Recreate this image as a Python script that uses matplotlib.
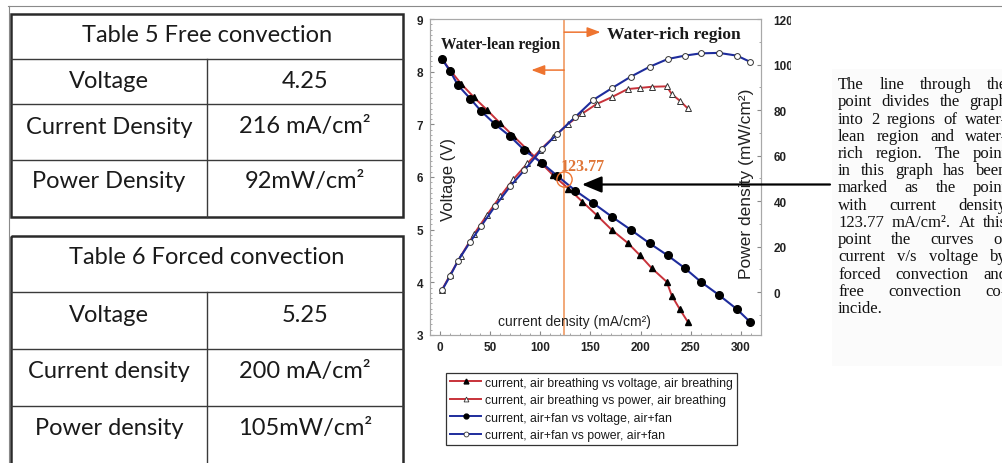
import numpy as np
import matplotlib
matplotlib.use("Agg")
import matplotlib.pyplot as plt
from matplotlib.ticker import MultipleLocator, AutoMinorLocator
from matplotlib.lines import Line2D
from matplotlib.patches import Rectangle

W, H = 1002, 464
DPI = 100

# ─── data ───
free_i = [2, 10, 21, 34, 47, 60, 73, 87, 100, 113, 128, 142, 156, 171, 187, 199, 211, 226, 231, 239, 247]
free_v = [8.24, 8.03, 7.77, 7.51, 7.27, 7.02, 6.78, 6.52, 6.28, 6.03, 5.78, 5.53, 5.28, 5.00, 4.75, 4.52, 4.27, 4.01, 3.75, 3.49, 3.25]
free_p = [1.0, 7.5, 16.0, 25.5, 34.0, 42.0, 49.5, 56.5, 62.5, 68.0, 74.0, 78.5, 82.6, 85.6, 89.2, 89.7, 90.2, 90.4, 87.0, 84.1, 80.7]
forced_i = [2, 10, 18, 30, 41, 55, 70, 84, 102, 117, 135, 153, 171, 190, 209, 227, 244, 260, 278, 296, 309]
forced_v = [8.24, 8.01, 7.74, 7.49, 7.25, 7.00, 6.77, 6.51, 6.26, 6.02, 5.74, 5.50, 5.25, 5.00, 4.74, 4.51, 4.27, 4.01, 3.76, 3.49, 3.25]
forced_p = [0.8, 7.0, 13.8, 22.0, 29.0, 37.8, 46.5, 53.5, 63.0, 69.5, 77.0, 84.5, 89.5, 94.6, 99.0, 102.4, 103.9, 104.9, 105.1, 103.9, 101.2]

x_cross = 123.77
v_cross = 5.96

legend_labels = [
    "current, air breathing vs voltage, air breathing",
    "current, air breathing vs power, air breathing",
    "current, air+fan vs voltage, air+fan",
    "current, air+fan vs power, air+fan",
]

t5_title = "Table 5 Free convection"
t5_rows = ["Voltage", "Current Density", "Power Density"]
t5_vals = ["4.25", "216 mA/cm²", "92mW/cm²"]
t6_title = "Table 6 Forced convection"
t6_rows = ["Voltage", "Current density", "Power density"]
t6_vals = ["5.25", "200 mA/cm²", "105mW/cm²"]

para_lines = [
    "The line through the",
    "point divides the graph",
    "into 2 regions of water-",
    "lean region and water-",
    "rich region. The point",
    "in this graph has been",
    "marked as the point",
    "with current density",
    "123.77 mA/cm². At this",
    "point the curves of",
    "current v/s voltage by",
    "forced convection and",
    "free convection co-",
    "incide.",
]

RED = "#C8323A"
BLUE = "#1E2C9C"
ORANGE = "#EE7430"
ORANGE_LT = "#F2A878"
SANS = "Liberation Sans"
SERIF = "Liberation Serif"
TABLE_FONT = "Lato"

fig = plt.figure(figsize=(W / DPI, H / DPI), dpi=DPI)
fig.patch.set_facecolor("white")

# ─── chart ───
ax = fig.add_axes([430 / W, 1 - 336 / H, 331 / W, 316 / H])
ax2 = ax.twinx()

ax.plot(free_i, free_v, "-", color=RED, lw=1.4, marker="^", ms=4.5, mfc="black", mec="black", zorder=3)
ax.plot(forced_i, forced_v, "-", color=BLUE, lw=1.5, marker="o", ms=5.5, mfc="black", mec="black", zorder=3)
ax2.plot(free_i, free_p, "-", color=RED, lw=1.4, marker="^", ms=4, mfc="white", mec="#333", mew=0.7, zorder=3)
ax2.plot(forced_i, forced_p, "-", color=BLUE, lw=1.5, marker="o", ms=4.2, mfc="white", mec="#333", mew=0.7, zorder=3)

ax.set_xlim(-10, 320)
ax.set_ylim(3, 9)
ax2.set_ylim(-18.9, 120)
ax.xaxis.set_major_locator(MultipleLocator(50))
ax.xaxis.set_minor_locator(AutoMinorLocator(5))
ax.yaxis.set_major_locator(MultipleLocator(1))
ax.yaxis.set_minor_locator(AutoMinorLocator(10))
ax2.yaxis.set_major_locator(MultipleLocator(20))
ax2.yaxis.set_minor_locator(AutoMinorLocator(2))

for a in (ax, ax2):
    for s in a.spines.values():
        s.set_color("#A8A8A8")
        s.set_linewidth(0.8)
    a.tick_params(which="major", direction="in", length=3, color="#888", labelsize=8.5)
    a.tick_params(which="minor", direction="in", length=1.5, color="#999")
ax.tick_params(axis="y", pad=5)
ax.tick_params(axis="x", pad=4)
ax2.tick_params(axis="y", pad=9)
for lab in ax.get_xticklabels() + ax.get_yticklabels() + ax2.get_yticklabels():
    lab.set_fontweight("bold")
    lab.set_family(SANS)
    lab.set_color("#222")

ax.text(0.057, 0.495, "Voltage (V)", transform=ax.transAxes, rotation=90, ha="center", va="center",
        fontsize=12, family=SANS, color="#222")
ax2.text(0.955, 0.483, "Power density (mW/cm²)", transform=ax2.transAxes, rotation=90, ha="center",
         va="center", fontsize=12.5, family=SANS, color="#222")
ax.text(0.435, 0.045, "current density (mA/cm²)", transform=ax.transAxes, ha="center", va="center",
        fontsize=10, family=SANS, color="#222")

# region marker
ax.axvline(x_cross, ymin=0, ymax=0.994, color=ORANGE_LT, lw=1.4, zorder=2)
ax.plot([x_cross], [v_cross], "o", ms=11, mfc="none", mec=ORANGE, mew=1.0, zorder=4)
ax.text(x_cross - 3, v_cross + 0.25, f"{x_cross:.2f}", color="#E07638", fontsize=11.5, family=SERIF,
        fontweight="bold", ha="left", va="center", zorder=5)
ax.annotate("", xy=(160, 8.75), xytext=(x_cross, 8.75),
            arrowprops=dict(arrowstyle="-|>,head_length=0.8,head_width=0.3", color=ORANGE, lw=1.1,
                            mutation_scale=10, shrinkA=0, shrinkB=0))
ax.annotate("", xy=(91, 8.03), xytext=(x_cross, 8.03),
            arrowprops=dict(arrowstyle="-|>,head_length=0.8,head_width=0.3", color=ORANGE, lw=1.1,
                            mutation_scale=10, shrinkA=0, shrinkB=0))
ax.text(1, 8.52, "Water-lean region", fontsize=11.2, family=SERIF, fontweight="bold", color="#1a1a1a",
        ha="left", va="center")
ax.text(166, 8.72, "Water-rich region", fontsize=12.6, family=SERIF, fontweight="bold", color="#1a1a1a",
        ha="left", va="center")

handles = [
    Line2D([], [], color=RED, lw=1.4, marker="^", ms=3.5, mfc="black", mec="black"),
    Line2D([], [], color=RED, lw=1.4, marker="^", ms=3.5, mfc="white", mec="#333", mew=0.6),
    Line2D([], [], color=BLUE, lw=1.4, marker="o", ms=3.5, mfc="black", mec="black"),
    Line2D([], [], color=BLUE, lw=1.4, marker="o", ms=3.5, mfc="white", mec="#333", mew=0.6),
]
leg = ax2.legend(handles, legend_labels, loc="upper left", bbox_to_anchor=(446 / W, 1 - 374 / H),
                 bbox_transform=fig.transFigure, prop={"family": SANS, "size": 8.8}, frameon=True,
                 fancybox=False, edgecolor="#333", framealpha=1, borderpad=0.3, labelspacing=0.45,
                 handlelength=2.6, handletextpad=0.3, borderaxespad=0)
leg.get_frame().set_linewidth(0.9)
for t in leg.get_texts():
    t.set_color("#1a1a1a")

# ─── overlay in pixel coordinates: page frame, tables, arrow, paragraph ───
ov = fig.add_axes([0, 0, 1, 1], zorder=10)
ov.set_xlim(0, W)
ov.set_ylim(H, 0)
ov.axis("off")
ov.patch.set_visible(False)

ov.plot([8, W], [7, 7], color="#8a8a8a", lw=0.8)
ov.plot([9, 9], [7, H], color="#8a8a8a", lw=0.8)
ov.add_patch(Rectangle((791, 10), 40, 90, facecolor="white", edgecolor="none"))
ov.add_patch(Rectangle((832, 70), W - 832, 297, facecolor="#FBFBFB", edgecolor="none"))


def draw_table(title, rows, vals, edges, text_y):
    x0, xm, x1 = 11, 207, 403
    for y in edges[1:-1]:
        ov.plot([x0, x1], [y, y], color="#3a3a3a", lw=1.0)
    ov.plot([xm, xm], [edges[1], edges[-1]], color="#3a3a3a", lw=1.0)
    ov.add_patch(Rectangle((x0, edges[0]), x1 - x0, edges[-1] - edges[0], fill=False,
                           edgecolor="#2a2a2a", lw=1.8))
    kw = dict(family=TABLE_FONT, fontsize=17, color="#1a1a1a", ha="center", va="center")
    ov.text((x0 + x1) / 2, text_y[0], title, **kw)
    for r, v, y in zip(rows, vals, text_y[1:]):
        ov.text((x0 + xm) / 2, y, r, **kw)
        ov.text((xm + x1) / 2, y, v, **kw)


draw_table(t5_title, t5_rows, t5_vals, [15, 60, 105, 161, 218], [36, 81, 127, 182])
draw_table(t6_title, t6_rows, t6_vals, [237, 293, 350, 407, 466], [258, 316, 372, 429])

ov.annotate("", xy=(582, 185.5), xytext=(830, 185.5),
            arrowprops=dict(arrowstyle="-|>,head_length=0.6,head_width=0.25", color="black", lw=1.6,
                            mutation_scale=20, shrinkA=0, shrinkB=0))

# justified paragraph, clipped by the right edge of the figure
fig.canvas.draw()
rend = fig.canvas.get_renderer()
px0, px1 = 838, 1007
for k, line in enumerate(para_lines):
    yb = 89 + 17.25 * k
    words = line.split(" ")
    texts = [ov.text(px0, yb, w_, family=SERIF, fontsize=12, color="#111", ha="left",
                     va="baseline") for w_ in words]
    widths = [t.get_window_extent(rend).width for t in texts]
    if k == len(para_lines) - 1 or len(words) == 1:
        gap = 4.0
    else:
        gap = (px1 - px0 - sum(widths)) / (len(words) - 1)
    x = px0
    for t, wd in zip(texts, widths):
        t.set_x(x)
        x += wd + gap

fig.savefig("out.png", dpi=DPI)
